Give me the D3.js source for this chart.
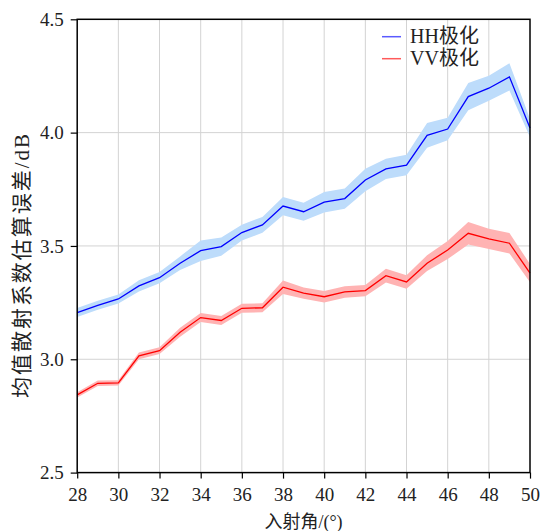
<!DOCTYPE html>
<html><head><meta charset="utf-8">
<script src="https://cdn.jsdelivr.net/npm/d3@7"></script>
<style>body{margin:0;background:#fff}</style>
</head><body><svg id="c" width="540" height="531"></svg>
<script>
const angles = [28,29,30,31,32,33,34,35,36,37,38,39,40,41,42,43,44,45,46,47,48,49,50];
const hhMean = [3.206,3.238,3.266,3.324,3.36,3.424,3.479,3.497,3.559,3.593,3.676,3.651,3.693,3.709,3.791,3.84,3.857,3.988,4.016,4.159,4.196,4.246,4.02];
const hhErr  = [0.02,0.02,0.02,0.025,0.025,0.03,0.045,0.04,0.035,0.035,0.04,0.04,0.045,0.045,0.05,0.045,0.045,0.055,0.05,0.06,0.055,0.06,0.04];
const vvMean = [2.843,2.894,2.896,3.015,3.038,3.119,3.184,3.171,3.225,3.227,3.318,3.292,3.276,3.297,3.303,3.369,3.341,3.424,3.482,3.556,3.531,3.512,3.38];
const vvErr  = [0.012,0.012,0.012,0.015,0.015,0.02,0.02,0.02,0.02,0.02,0.03,0.025,0.025,0.025,0.025,0.03,0.03,0.035,0.04,0.05,0.045,0.045,0.04];
const xTicks = [28,30,32,34,36,38,40,42,44,46,48,50];
const yTicks = [2.5,3.0,3.5,4.0,4.5];
const seriesNames = ["HH极化","VV极化"];

const svg = d3.select("#c");
const L=77.2,R=530,T=19.3,B=472.6;
const x = d3.scaleLinear().domain([28,50]).range([L,R]);
const y = d3.scaleLinear().domain([2.5,4.5]).range([B,T]);
const font = "Liberation Serif, Noto Sans CJK SC, serif";

// grid
svg.append("g").selectAll("line").data(xTicks.slice(1,-1)).join("line")
  .attr("x1",d=>x(d)).attr("x2",d=>x(d)).attr("y1",T).attr("y2",B)
  .attr("stroke","#d3d3d3").attr("stroke-width",1);
svg.append("g").selectAll("line").data(yTicks.slice(1,-1)).join("line")
  .attr("y1",d=>y(d)).attr("y2",d=>y(d)).attr("x1",L).attr("x2",R)
  .attr("stroke","#d3d3d3").attr("stroke-width",1);

const data = (m,e)=>angles.map((a,i)=>({a,m:m[i],e:e[i]}));
const area = d3.area().x(d=>x(d.a)).y0(d=>y(d.m-d.e)).y1(d=>y(d.m+d.e));
const line = d3.line().x(d=>x(d.a)).y(d=>y(d.m));

const hh = data(hhMean,hhErr), vv = data(vvMean,vvErr);
svg.append("path").datum(hh).attr("d",area).attr("fill","#bddcfb");
svg.append("path").datum(vv).attr("d",area).attr("fill","#ffb3b3");
svg.append("path").datum(hh).attr("d",line).attr("fill","none").attr("stroke","#0000ff").attr("stroke-width",1.3);
svg.append("path").datum(vv).attr("d",line).attr("fill","none").attr("stroke","#ff0000").attr("stroke-width",1.3);

// frame
svg.append("rect").attr("x",L).attr("y",T).attr("width",R-L).attr("height",B-T)
  .attr("fill","none").attr("stroke","#000").attr("stroke-width",1.5);

// axes
const xa = svg.append("g").attr("transform",`translate(0,${B})`)
  .call(d3.axisBottom(x).tickValues(xTicks).tickSize(6).tickPadding(9).tickFormat(d3.format("d")));
const ya = svg.append("g").attr("transform",`translate(${L},0)`)
  .call(d3.axisLeft(y).tickValues(yTicks).tickSize(6.5).tickPadding(7).tickFormat(d3.format(".1f")));
[xa,ya].forEach(g=>{
  g.attr("font-family",font).attr("font-size",19);
  g.select(".domain").remove();
  g.selectAll(".tick line").attr("stroke","#000").attr("stroke-width",1.2);
  g.selectAll("text").attr("fill","#222");
});

svg.append("text").attr("x",303.5).attr("y",527.5).attr("text-anchor","middle")
  .attr("font-family",font).attr("font-size",18).attr("fill","#222").text("入射角/(°)");
svg.append("text").attr("transform",`translate(29,266) rotate(-90)`).attr("text-anchor","middle")
  .attr("textLength",264).attr("lengthAdjust","spacing")
  .attr("font-family",font).attr("font-size",21).attr("fill","#222").text("均值散射系数估算误差/dB");

// legend
const lg = svg.append("g");
const colors = ["#5a5aff","#ff5a5a"];
seriesNames.forEach((n,i)=>{
  const yy = 36.7 + i*22;
  lg.append("line").attr("x1",382).attr("x2",401).attr("y1",yy).attr("y2",yy)
    .attr("stroke",colors[i]).attr("stroke-width",1.5);
  lg.append("text").attr("x",410).attr("y",yy+6.6).attr("font-family",font)
    .attr("font-size",20).attr("fill","#222").text(n);
});
</script></body></html>
